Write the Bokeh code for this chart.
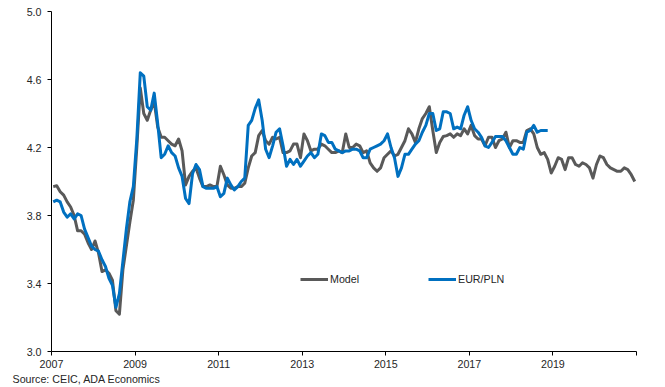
import pandas as pd
from bokeh.plotting import figure
from bokeh.models import Range1d, FixedTicker, Legend, LegendItem, Title
from bokeh.embed import file_html
from bokeh.resources import INLINE

# ---- data (monthly, starting Jan 2007) ----
model = [
    # 2007
    3.97, 3.975, 3.94, 3.92, 3.88, 3.85, 3.80, 3.71, 3.71, 3.69, 3.64, 3.60,
    # 2008
    3.65, 3.58, 3.47, 3.48, 3.46, 3.42, 3.24, 3.22, 3.48, 3.62, 3.76, 3.89,
    # 2009
    4.20, 4.55, 4.40, 4.36, 4.42, 4.47, 4.32, 4.26, 4.26, 4.24, 4.22, 4.21,
    # 2010
    4.25, 4.18, 3.98, 4.03, 4.06, 4.08, 4.02, 3.97, 3.97, 3.98, 3.97, 3.97,
    # 2011
    4.09, 4.04, 3.98, 3.96, 3.96, 3.97, 3.97, 3.99, 4.08, 4.15, 4.17, 4.27,
    # 2012
    4.30, 4.24, 4.22, 4.26, 4.25, 4.26, 4.17, 4.17, 4.18, 4.22, 4.22, 4.14,
    # 2013
    4.28, 4.24, 4.18, 4.19, 4.19, 4.22, 4.21, 4.19, 4.17, 4.17, 4.18, 4.17,
    # 2014
    4.28, 4.20, 4.20, 4.22, 4.21, 4.17, 4.18, 4.11, 4.08, 4.06, 4.08, 4.14,
    # 2015
    4.16, 4.18, 4.15, 4.16, 4.20, 4.24, 4.31, 4.28, 4.23, 4.31, 4.37, 4.40,
    # 2016
    4.44, 4.30, 4.17, 4.23, 4.265, 4.27, 4.28, 4.26, 4.28, 4.27, 4.31, 4.28,
    # 2017
    4.33, 4.27, 4.25, 4.25, 4.21, 4.26, 4.26, 4.20, 4.24, 4.25, 4.29, 4.20,
    # 2018
    4.24, 4.24, 4.23, 4.23, 4.30, 4.31, 4.28, 4.20, 4.16, 4.17, 4.13, 4.05,
    # 2019
    4.09, 4.14, 4.13, 4.07, 4.14, 4.14, 4.10, 4.09, 4.11, 4.10, 4.08, 4.02,
    # 2020
    4.10, 4.15, 4.14, 4.10, 4.08, 4.07, 4.06, 4.06, 4.08, 4.07, 4.04, 4.00,
]

eurpln = [
    # 2007
    3.88, 3.89, 3.88, 3.82, 3.79, 3.81, 3.78, 3.81, 3.80, 3.72, 3.67, 3.62,
    # 2008
    3.60, 3.59, 3.54, 3.50, 3.43, 3.39, 3.26, 3.34, 3.53, 3.72, 3.88, 3.97,
    # 2009
    4.25, 4.64, 4.62, 4.44, 4.42, 4.52, 4.34, 4.14, 4.16, 4.21, 4.17, 4.15,
    # 2010
    4.08, 4.03, 3.90, 3.87, 4.045, 4.10, 4.07, 3.97, 3.96, 3.96, 3.96, 3.97,
    # 2011
    3.91, 3.93, 4.02, 3.98, 3.95, 3.97, 4.00, 4.02, 4.33, 4.36, 4.43, 4.48,
    # 2012
    4.36, 4.19, 4.14, 4.21, 4.29, 4.31, 4.21, 4.09, 4.13, 4.10, 4.13, 4.09,
    # 2013
    4.12, 4.15, 4.17, 4.14, 4.16, 4.28, 4.27, 4.23, 4.23, 4.19, 4.18, 4.17,
    # 2014
    4.18, 4.18, 4.19, 4.19, 4.18, 4.14, 4.14, 4.19, 4.20, 4.21, 4.22, 4.24,
    # 2015
    4.28, 4.20, 4.14, 4.03, 4.08, 4.16, 4.16, 4.19, 4.22, 4.24, 4.29, 4.33,
    # 2016
    4.40, 4.40, 4.30, 4.31, 4.41, 4.41, 4.40, 4.31, 4.32, 4.31, 4.39, 4.44,
    # 2017
    4.36, 4.31, 4.29, 4.26, 4.21, 4.20, 4.23, 4.265, 4.265, 4.265, 4.24, 4.20,
    # 2018
    4.16, 4.16, 4.20, 4.19, 4.29, 4.30, 4.33, 4.29, 4.30, 4.30, 4.30,
]

x_ticks = [2007, 2009, 2011, 2013, 2015, 2017, 2019, 2021]
x_tick_labels = ["2007", "2009", "2011", "2013", "2015", "2017", "2019", ""]
y_ticks = [3.0, 3.4, 3.8, 4.2, 4.6, 5.0]
y_tick_labels = ["3.0", "3.4", "3.8", "4.2", "4.6", "5.0"]
series_names = ["Model", "EUR/PLN"]
source_text = "Source: CEIC,  ADA Economics"


def month_positions(n):
    dates = pd.date_range("2007-01-01", periods=n, freq="MS")
    # each month plotted at its middle, in decimal years
    return [d.year + (d.month - 0.5) / 12 for d in dates]


FONT = "Liberation Sans"
TXT = "#262626"
GRAY = "#595959"
BLUE = "#0070C0"

p = figure(
    width=665, height=387,
    output_backend="svg", toolbar_location=None,
    x_range=Range1d(2007, 2021), y_range=Range1d(3.0, 5.0),
    min_border_left=51, min_border_right=29, min_border_top=11, min_border_bottom=36,
)
p.outline_line_color = None
p.xgrid.visible = False
p.ygrid.visible = False
p.background_fill_color = "white"
p.border_fill_color = "white"

r_model = p.line(month_positions(len(model)), model, line_color=GRAY, line_width=3,
                 line_join="round")
r_eur = p.line(month_positions(len(eurpln)), eurpln, line_color=BLUE, line_width=3,
               line_join="round")

for ax in (p.xaxis[0], p.yaxis[0]):
    ax.axis_line_color = "black"
    ax.axis_line_width = 1
    ax.major_tick_line_color = "black"
    ax.major_tick_out = 4
    ax.major_tick_in = 0
    ax.minor_tick_line_color = None
    ax.major_label_text_font = FONT
    ax.major_label_text_font_size = "10.7px"
    ax.major_label_text_color = TXT

p.xaxis.ticker = FixedTicker(ticks=x_ticks)
p.xaxis.major_label_overrides = {t: l for t, l in zip(x_ticks, x_tick_labels)}
p.xaxis.major_label_standoff = 4
p.yaxis.ticker = FixedTicker(ticks=y_ticks)
p.yaxis.major_label_overrides = {t: l for t, l in zip(y_ticks, y_tick_labels)}
p.yaxis.major_label_standoff = 6

for name, rend, loc in ((series_names[0], r_model, (249, 66)),
                        (series_names[1], r_eur, (377, 66))):
    leg = Legend(items=[LegendItem(label=name, renderers=[rend])],
                 location=loc, orientation="horizontal",
                 glyph_width=28, glyph_height=12, label_standoff=2,
                 padding=0, margin=0, spacing=0,
                 border_line_color=None, background_fill_alpha=0,
                 label_text_font=FONT, label_text_font_size="10.7px",
                 label_text_color=TXT)
    p.add_layout(leg)

src = Title(text=source_text, align="left", offset=-39, standoff=0,
            text_font=FONT, text_font_size="10.7px", text_font_style="normal",
            text_color=TXT)
p.add_layout(src, "below")

open("out.html", "w").write(file_html(p, INLINE))
